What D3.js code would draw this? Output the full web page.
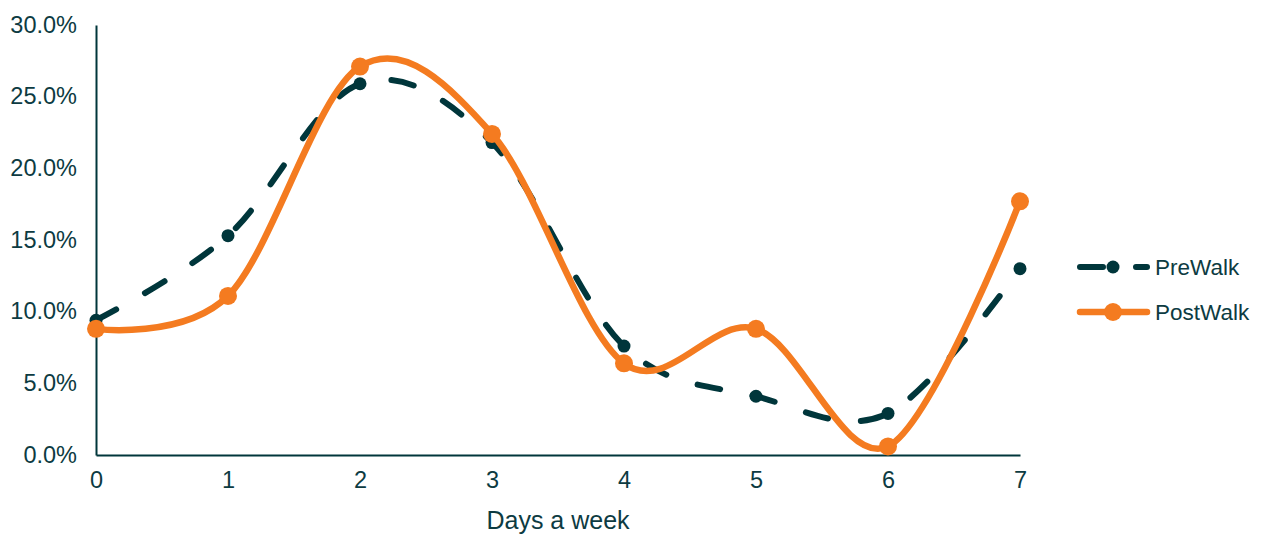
<!DOCTYPE html>
<html>
<head>
<meta charset="utf-8">
<script src="https://cdn.jsdelivr.net/npm/d3@7"></script>
<style>
  html, body { margin: 0; padding: 0; background: #ffffff; }
  svg { display: block; font-family: "Liberation Sans", Arial, sans-serif; }
</style>
</head>
<body>
<svg id="chart" width="1262" height="535"></svg>
<script>
// Share of respondents by number of walking days per week
const days = [0, 1, 2, 3, 4, 5, 6, 7];
const preWalk = [0.094, 0.153, 0.259, 0.218, 0.076, 0.041, 0.029, 0.130];
const postWalk = [0.088, 0.111, 0.271, 0.224, 0.064, 0.088, 0.006, 0.177];
const yTicks = [0, 0.05, 0.10, 0.15, 0.20, 0.25, 0.30];
const seriesNames = ["PreWalk", "PostWalk"];
const xTitle = "Days a week";

const dark = "#00363b";
const orange = "#f47b20";
const textColor = "#0d3b42";

const svg = d3.select("#chart");

const x = d3.scaleLinear().domain([0, 7]).range([96, 1020]);
const y = d3.scaleLinear().domain([0, 0.30]).range([455, 25]);

// Axes
const xAxis = d3.axisBottom(x).tickValues(days).tickSize(0).tickPadding(21).tickFormat(d3.format("d"));
const yAxis = d3.axisLeft(y).tickValues(yTicks).tickSize(0).tickPadding(19).tickFormat(d3.format(".1%"));

const gx = svg.append("g").attr("transform", "translate(0,455)").call(xAxis);
const gy = svg.append("g").attr("transform", "translate(96,0)").call(yAxis);

[gx, gy].forEach(g => {
  g.attr("font-size", null).attr("font-family", null);
  g.select(".domain").attr("stroke", dark).attr("stroke-width", 2);
  g.selectAll("text").attr("fill", textColor).style("font-size", "23.5px")
    .style("font-family", "'Liberation Sans', Arial, sans-serif");
});
gy.selectAll("text").attr("dy", "0.3em");
gx.selectAll("text").attr("dy", "0.5em");

svg.append("text")
  .attr("x", 558).attr("y", 529)
  .attr("text-anchor", "middle")
  .attr("fill", textColor)
  .style("font-size", "25px")
  .text(xTitle);

const line = d3.line()
  .x((d, i) => x(days[i]))
  .y(d => y(d))
  .curve(d3.curveCatmullRom.alpha(0));

// PreWalk: dashed smoothed line
svg.append("path")
  .datum(preWalk)
  .attr("fill", "none")
  .attr("stroke", dark)
  .attr("stroke-width", 6)
  .attr("stroke-linecap", "round")
  .attr("stroke-dasharray", "23,33")
  .attr("d", line);

svg.append("g").selectAll("circle")
  .data(preWalk)
  .join("circle")
  .attr("cx", (d, i) => x(days[i]))
  .attr("cy", d => y(d))
  .attr("r", 6.5)
  .attr("fill", dark);

// PostWalk: solid smoothed line
svg.append("path")
  .datum(postWalk)
  .attr("fill", "none")
  .attr("stroke", orange)
  .attr("stroke-width", 6.5)
  .attr("stroke-linecap", "round")
  .attr("d", line);

svg.append("g").selectAll("circle")
  .data(postWalk)
  .join("circle")
  .attr("cx", (d, i) => x(days[i]))
  .attr("cy", d => y(d))
  .attr("r", 9)
  .attr("fill", orange);

// Legend
const legend = svg.append("g");
const legendRows = [
  { name: seriesNames[0], color: dark, dash: "23,33", r: 6.5, w: 6, y: 267 },
  { name: seriesNames[1], color: orange, dash: null, r: 9, w: 6.5, y: 312 }
];
legendRows.forEach(row => {
  legend.append("line")
    .attr("x1", 1080).attr("x2", 1147)
    .attr("y1", row.y).attr("y2", row.y)
    .attr("stroke", row.color)
    .attr("stroke-width", row.w)
    .attr("stroke-linecap", "round")
    .attr("stroke-dasharray", row.dash);
  legend.append("circle")
    .attr("cx", 1113).attr("cy", row.y)
    .attr("r", row.r).attr("fill", row.color);
  legend.append("text")
    .attr("x", 1155).attr("y", row.y)
    .attr("dy", "0.36em")
    .attr("fill", textColor)
    .style("font-size", "22.5px")
    .text(row.name);
});
</script>
</body>
</html>
